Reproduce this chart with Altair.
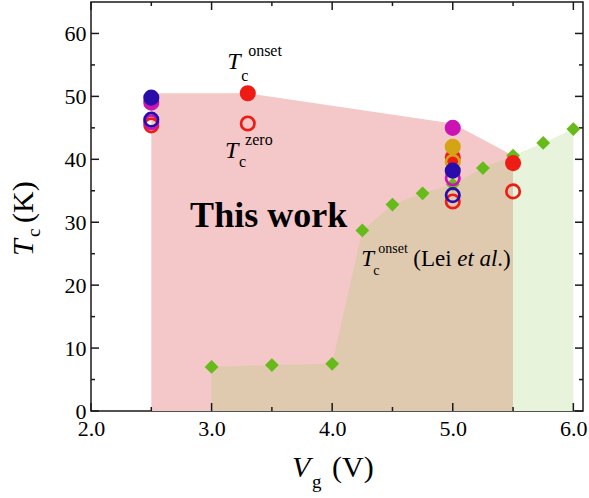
import altair as alt
import pandas as pd

# ---------------- data ----------------
# Lei et al. onset Tc
lei_vg = [3.0, 3.5, 4.0, 4.25, 4.5, 4.75, 5.0, 5.25, 5.5, 5.75, 6.0]
lei_tc = [7.0, 7.3, 7.5, 28.7, 32.8, 34.6, 36.0, 38.6, 40.6, 42.6, 44.8]

# envelope of "This work" region
region_vg = [2.5, 3.3, 5.0, 5.5]
region_tc = [50.5, 50.5, 45.7, 40.6]

# This work: onset (filled) and zero (open) per sample colour
red_on_vg, red_on_tc = [3.3, 5.0, 5.5], [50.5, 40.3, 39.4]
red_zero_vg, red_zero_tc = [2.5, 3.3, 5.0, 5.5], [45.4, 45.7, 33.3, 34.9]
mag_on_vg, mag_on_tc = [2.5, 5.0], [49.0, 45.0]
mag_zero_vg, mag_zero_tc = [2.5, 5.0], [45.9, 37.0]
gold_on_vg, gold_on_tc = [5.0], [42.0]
gold_zero_vg, gold_zero_tc = [5.0], [39.6]
blue_on_vg, blue_on_tc = [2.5, 5.0], [49.8, 38.2]
blue_zero_vg, blue_zero_tc = [2.5, 5.0], [46.3, 34.3]

x_major = [2.0, 3.0, 4.0, 5.0, 6.0]
x_minor = [2.5, 3.5, 4.5, 5.5]
y_major = [0, 10, 20, 30, 40, 50, 60]
y_minor = [5, 15, 25, 35, 45, 55]

# ---------------- styling ----------------
W, H = 492, 409
FONT = "Liberation Serif"
RED, MAG, GOLD, BLUE = "#ee1c14", "#cc14b4", "#d4a414", "#2a0caa"
PINK, TAN, LGREEN, DGREEN = "#f4c7c8", "#dfcab0", "#e7f3db", "#66bb1a"
INK = "#1a1a1a"

series = [
    (red_on_vg, red_on_tc, RED, True), (red_zero_vg, red_zero_tc, RED, False),
    (mag_on_vg, mag_on_tc, MAG, True), (mag_zero_vg, mag_zero_tc, MAG, False),
    (gold_on_vg, gold_on_tc, GOLD, True), (gold_zero_vg, gold_zero_tc, GOLD, False),
    (blue_on_vg, blue_on_tc, BLUE, True), (blue_zero_vg, blue_zero_tc, BLUE, False),
]
rows = []
k = 0
for vg, tc, col, filled in series:
    for a, b in zip(vg, tc):
        rows.append({"Vg": a, "Tc": b, "stroke": col,
                     "fill": col if filled else "transparent", "ord": k})
        k += 1
pts = pd.DataFrame(rows)
lei = pd.DataFrame({"Vg": lei_vg, "Tc": lei_tc})
region = pd.DataFrame({"Vg": region_vg, "Tc": region_tc})

xs = alt.Scale(domain=[2.0, 6.08], nice=False, zero=False)
ys = alt.Scale(domain=[0, 65], nice=False, zero=False)
xax = alt.Axis(values=x_major, format=".1f", ticks=False, domain=False, grid=False,
               title=None, labelFont=FONT, labelFontSize=22, labelColor="black",
               labelPadding=7, labelFlush=False, labelOverlap=False)
yax = alt.Axis(values=y_major, format="d", ticks=False, domain=False, grid=False,
               title=None, labelFont=FONT, labelFontSize=22, labelColor="black",
               labelPadding=5, labelFlush=False, labelOverlap=False)


def X(f="Vg"):
    return alt.X(f"{f}:Q", scale=xs, axis=xax)


def Y(f="Tc"):
    return alt.Y(f"{f}:Q", scale=ys, axis=yax)


pink = alt.Chart(region).mark_area(color=PINK, interpolate="linear").encode(x=X(), y=Y())
tan = alt.Chart(lei).transform_filter("datum.Vg <= 5.5").mark_area(
    color=TAN, interpolate="linear").encode(x=X(), y=Y())
green = alt.Chart(lei).transform_filter("datum.Vg >= 5.5").mark_area(
    color=LGREEN, interpolate="linear").encode(x=X(), y=Y())


def xticks(vals, L):
    d = pd.DataFrame({"v": vals})
    b = alt.Chart(d).mark_rule(color=INK, strokeWidth=1.5).encode(
        x=X("v"), y=alt.value(H), y2=alt.value(H - L))
    t = alt.Chart(d).mark_rule(color=INK, strokeWidth=1.5).encode(
        x=X("v"), y=alt.value(0), y2=alt.value(L))
    return [b, t]


def yticks(vals, L):
    d = pd.DataFrame({"v": vals})
    l = alt.Chart(d).mark_rule(color=INK, strokeWidth=1.5).encode(
        y=Y("v"), x=alt.value(0), x2=alt.value(L))
    r = alt.Chart(d).mark_rule(color=INK, strokeWidth=1.5).encode(
        y=Y("v"), x=alt.value(W), x2=alt.value(W - L))
    return [l, r]


diamonds = alt.Chart(lei).mark_point(shape="diamond", filled=True, size=190,
                                     color=DGREEN, opacity=1).encode(x=X(), y=Y())

circles = alt.Chart(pts).mark_point(shape="circle", size=180, strokeWidth=2.7,
                                    opacity=1).encode(
    x=X(), y=Y(),
    fill=alt.Fill("fill:N", scale=None),
    stroke=alt.Stroke("stroke:N", scale=None),
    order=alt.Order("ord:Q"))

one = pd.DataFrame({"a": [0]})


def dtext(x, y, s, size, dx=0, dy=0, style="normal", weight="normal"):
    return alt.Chart(pd.DataFrame({"Vg": [x], "Tc": [y]})).mark_text(
        text=s, font=FONT, fontSize=size, fontStyle=style, fontWeight=weight,
        align="left", baseline="alphabetic", dx=dx, dy=dy, color="black").encode(
        x=X(), y=Y())


def ptext(px, py, s, size, style="normal", angle=0):
    return alt.Chart(one).mark_text(
        text=s, font=FONT, fontSize=size, fontStyle=style, angle=angle,
        align="left", baseline="alphabetic", color="black").encode(
        x=alt.value(px), y=alt.value(py))


labels = [
    # T_c^onset
    dtext(3.129, 54.4, "T", 24, style="italic"),
    dtext(3.129, 54.4, "c", 16, dx=14, dy=12),
    dtext(3.129, 54.4, "onset", 16, dx=21, dy=-13),
    # T_c^zero
    dtext(3.112, 40.2, "T", 24, style="italic"),
    dtext(3.112, 40.2, "c", 16, dx=14, dy=9),
    dtext(3.112, 40.2, "zero", 16, dx=20, dy=-13),
    # This work
    dtext(2.822, 29.2, "This work", 36, weight="bold"),
    # T_c^onset (Lei et al.)
    dtext(4.241, 23.0, "T", 23, style="italic"),
    dtext(4.241, 23.0, "c", 14, dx=12, dy=9),
    dtext(4.241, 23.0, "onset", 14, dx=17, dy=-13),
    dtext(4.241, 23.0, "(Lei ", 23, dx=52),
    dtext(4.241, 23.0, "et al", 23, dx=96, style="italic"),
    dtext(4.241, 23.0, ".)", 23, dx=136),
    # axis titles
    ptext(-58, 254, "T", 30, style="italic", angle=270),
    ptext(-51, 235, "c", 19, angle=270),
    ptext(-58, 221, "(K)", 30, angle=270),
    ptext(201, 475, "V", 30, style="italic"),
    ptext(221, 486, "g", 19),
    ptext(241, 475, "(V)", 30),
]

chart = alt.layer(
    pink, tan, green,
    *xticks(x_major, 8), *xticks(x_minor, 4), *yticks(y_major, 8), *yticks(y_minor, 4),
    diamonds, circles, *labels
).properties(
    width=W, height=H,
    autosize=alt.AutoSizeParams(type="none"),
    padding={"left": 91, "top": 2, "right": 6, "bottom": 87},
    background="white",
).configure_view(stroke=INK, strokeWidth=1.5)

chart.save("out.html", embed_options={"renderer": "svg", "actions": False})
